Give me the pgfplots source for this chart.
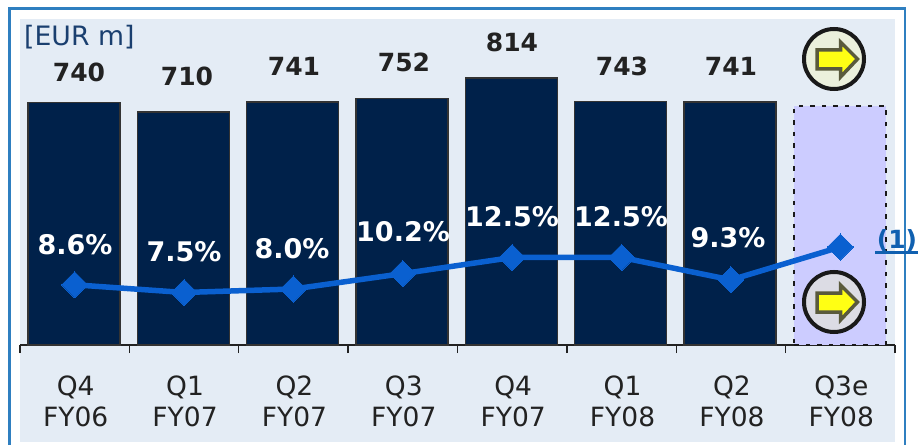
\documentclass[border=0pt]{standalone}
\usepackage{fontspec}
\setmainfont{DejaVu Sans}
\usepackage{pgfplots}
\pgfplotsset{compat=1.18}
\definecolor{panel}{HTML}{E4ECF5}
\definecolor{frameb}{HTML}{2F7FC0}
\definecolor{barnavy}{HTML}{00214A}
\definecolor{baredge}{HTML}{333333}
\definecolor{lilac}{HTML}{CCCCFF}
\definecolor{lineblue}{HTML}{0A60D0}
\definecolor{noteblue}{HTML}{1060B0}
\definecolor{unitblue}{HTML}{1A3F6F}
\definecolor{ink}{HTML}{222222}
\definecolor{arrowedge}{HTML}{5A5A3C}
\definecolor{arrowfill}{HTML}{FFFF14}
\definecolor{icontop}{HTML}{EBF0DC}
\definecolor{iconlow}{HTML}{DCDCE4}
\newcommand\fs[1]{\fontsize{#1}{#1}\selectfont}
\newcommand\valuelab[3]{\node[font=\fs{25}\bfseries,text=ink,inner sep=0pt] at ({#1*1pt},{(445-#2)*1pt}) {#3};}
\newcommand\pctlab[3]{\node[font=\fs{27}\bfseries,text=white,inner sep=0pt] at ({#1*1pt},{(445-#2)*1pt}) {#3};}
\newcommand\icon[3]{%
  \begin{scope}[shift={(#1pt,{(445-#2)*1pt})}]
    \draw[line width=4pt,draw=black!90,fill=#3] (0,0) circle (30pt);
    \draw[line width=3.5pt,draw=arrowedge,fill=arrowfill,miter limit=10]
      (-17pt,9pt)--(6.5pt,9pt)--(6.5pt,17pt)--(23.5pt,0pt)--(6.5pt,-18pt)--(6.5pt,-10pt)--(-17pt,-10pt)--cycle;
  \end{scope}}
\begin{document}
\begin{tikzpicture}[x=1pt,y=1pt]
\path[use as bounding box] (0,0) rectangle (918,445);
\fill[white] (0,0) rectangle (918,445);
\draw[frameb,line width=2.2pt] (9.5,0) -- (9.5,436.5) -- (905,436.5) -- (905,0);
\fill[panel] (20,3) rectangle (895,426);

\begin{axis}[
  at={(20pt,100pt)},anchor=south west,
  scale only axis,width=875pt,height=326pt,
  xmin=-0.5,xmax=7.5,ymin=0,ymax=994,
  axis y line=none,axis x line*=bottom,
  axis line style={-,draw=ink,line width=1.6pt},
  xtick={0,...,7},
  xticklabels={{Q4\\FY06},{Q1\\FY07},{Q2\\FY07},{Q3\\FY07},{Q4\\FY07},{Q1\\FY08},{Q2\\FY08},{Q3e\\FY08}},
  xticklabel style={align=center,font=\fs{26.5}\linespread{1.17}\selectfont,text=ink,yshift=-27pt,xshift=1pt},
  major tick length=0pt,
  minor xtick={-0.5,0.5,...,7.5},
  minor tick length=8pt,
  tick align=outside,
  minor tick style={draw=ink,line width=1.4pt},
  clip=false,
]
\addplot[ybar,bar shift=-0.8pt,bar width=92pt,fill=barnavy,draw=baredge,line width=1.4pt]
  coordinates {(0,740) (1,710) (2,741) (3,752) (4,814) (5,743) (6,741)};
\addplot[ybar,bar shift=0pt,bar width=92pt,fill=lilac,draw=black!90,line width=2.2pt,dash pattern=on 4.5pt off 7pt]
  coordinates {(7,728)};
\end{axis}

\begin{axis}[
  at={(20pt,100pt)},anchor=south west,
  scale only axis,width=875pt,height=326pt,
  xmin=-0.5,xmax=7.5,ymin=0,ymax=46.57,
  hide axis,clip=false,
]
\addplot[lineblue,line width=5.5pt,mark=square*,mark size=9.2pt,
  mark options={rotate=45,fill=lineblue,draw=lineblue,line width=0pt}]
  coordinates {(0,8.6) (1,7.5) (2,8.0) (3,10.2) (4,12.5) (5,12.5) (6,9.3) (7,14.0)};
\end{axis}

\node[font=\fs{26.7},text=unitblue,anchor=west,inner sep=0pt] at (24,408) {[EUR m]};
\valuelab{79}{72}{740}
\valuelab{187}{76}{710}
\valuelab{294}{66}{741}
\valuelab{404}{62}{752}
\valuelab{512}{42}{814}
\valuelab{622}{66}{743}
\valuelab{731}{66}{741}
\pctlab{75}{245}{8.6\%}
\pctlab{184}{252}{7.5\%}
\pctlab{292}{249}{8.0\%}
\pctlab{403}{232}{10.2\%}
\pctlab{512}{217}{12.5\%}
\pctlab{621}{217}{12.5\%}
\pctlab{728}{238}{9.3\%}
\node[font=\fs{25}\bfseries,text=noteblue,inner sep=0pt] at (897,204) {(1)};
\draw[noteblue,line width=2.2pt] (875,192.5) -- (918,192.5);
\icon{834}{59}{icontop}
\icon{834}{302}{iconlow}
\end{tikzpicture}
\end{document}
